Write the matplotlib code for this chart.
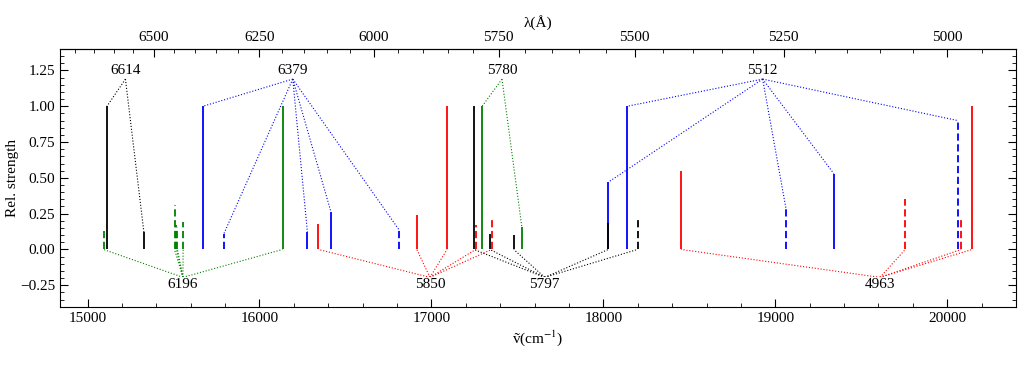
import numpy as np
import matplotlib
matplotlib.use('Agg')
import matplotlib.pyplot as plt
from matplotlib.ticker import MultipleLocator, FixedLocator

plt.rcParams['font.family'] = ['Liberation Serif', 'DejaVu Serif']
plt.rcParams['mathtext.fontset'] = 'stix'

# DIB groups: label, colour, wavenumbers (cm^-1), relative strengths, dashed flags
band_names = ['6614', '6379', '5780', '5512', '6196', '5850', '5797', '4963']
band_colors = ['black', 'blue', 'green', 'blue', 'green', 'red', 'black', 'red']
band_on_top = [True, True, True, True, False, False, False, False]

band_nu = [
    [15113, 15328],
    [15671, 15793, 16279, 16415, 16810],
    [17295, 17526],
    [18029, 18138, 19062, 19340, 20062],
    [15093, 15506, 15517, 15523, 15556, 16134],
    [16343, 16915, 17091, 17258, 17350],
    [17247, 17340, 17479, 18029, 18199],
    [18452, 19756, 20081, 20145],
]
band_strength = [
    [1.00, 0.12],
    [1.00, 0.11, 0.12, 0.265, 0.14],
    [1.00, 0.155],
    [0.47, 1.00, 0.285, 0.53, 0.90],
    [0.128, 0.31, 0.17, 0.16, 0.19, 1.00],
    [0.18, 0.24, 1.00, 0.17, 0.22],
    [1.00, 0.11, 0.10, 0.185, 0.225],
    [0.545, 0.355, 0.21, 1.00],
]
band_dashed = [
    [False, False],
    [False, True, False, False, True],
    [False, False],
    [False, False, True, False, True],
    [True, True, True, True, True, False],
    [False, False, False, True, True],
    [False, False, False, False, True],
    [False, True, True, False],
]

lambda_ticks = [6500, 6250, 6000, 5750, 5500, 5250, 5000]

fig = plt.figure(figsize=(10.31, 3.65), dpi=100)
ax = fig.add_axes([0.0582, 0.1597, 0.9273, 0.7060])

for name, col, top, nus, hs, ds in zip(band_names, band_colors, band_on_top,
                                       band_nu, band_strength, band_dashed):
    for nu, h, d in zip(nus, hs, ds):
        ax.vlines(nu, 0, h, colors=col, lw=1.3,
                  linestyles=(0, (4, 2)) if d else 'solid')
    xc = np.mean(nus)
    if top:
        yc, yt = 1.19, 1.25
        ends = hs
    else:
        yc, yt = -0.195, -0.245
        ends = [0] * len(nus)
    for nu, e in zip(nus, ends):
        ax.plot([xc, nu], [yc, e], color=col, ls=':', lw=0.8)
    ax.text(xc, yt, name, ha='center', va='center', fontsize=11,
            bbox=dict(fc='white', ec='none', pad=0.5))

ax.set_xlim(14840, 20400)
ax.set_ylim(-0.4, 1.4)
ax.set_xlabel('ṽ(cm$^{-1}$)', fontsize=11, labelpad=3)
ax.set_ylabel('Rel. strength', fontsize=11, labelpad=1)
ax.xaxis.set_major_locator(MultipleLocator(1000))
ax.xaxis.set_minor_locator(MultipleLocator(200))
ax.yaxis.set_major_locator(MultipleLocator(0.25))
ax.yaxis.set_minor_locator(MultipleLocator(0.05))
ax.tick_params(which='both', direction='in', top=False, right=True, labelsize=11)
ax.tick_params(which='major', length=6)
ax.tick_params(which='minor', length=3)


def conv(x):
    x = np.asarray(x, dtype=float)
    with np.errstate(divide='ignore'):
        return 1e8 / x


sec = ax.secondary_xaxis('top', functions=(conv, conv))
sec.set_xlabel('λ(Å)', fontsize=11, labelpad=3)
sec.xaxis.set_major_locator(FixedLocator(lambda_ticks))
sec.xaxis.set_minor_locator(MultipleLocator(50))
sec.tick_params(which='both', direction='in', labelsize=11)
sec.tick_params(which='major', length=6)
sec.tick_params(which='minor', length=3)

fig.savefig('out.png', dpi=100)
